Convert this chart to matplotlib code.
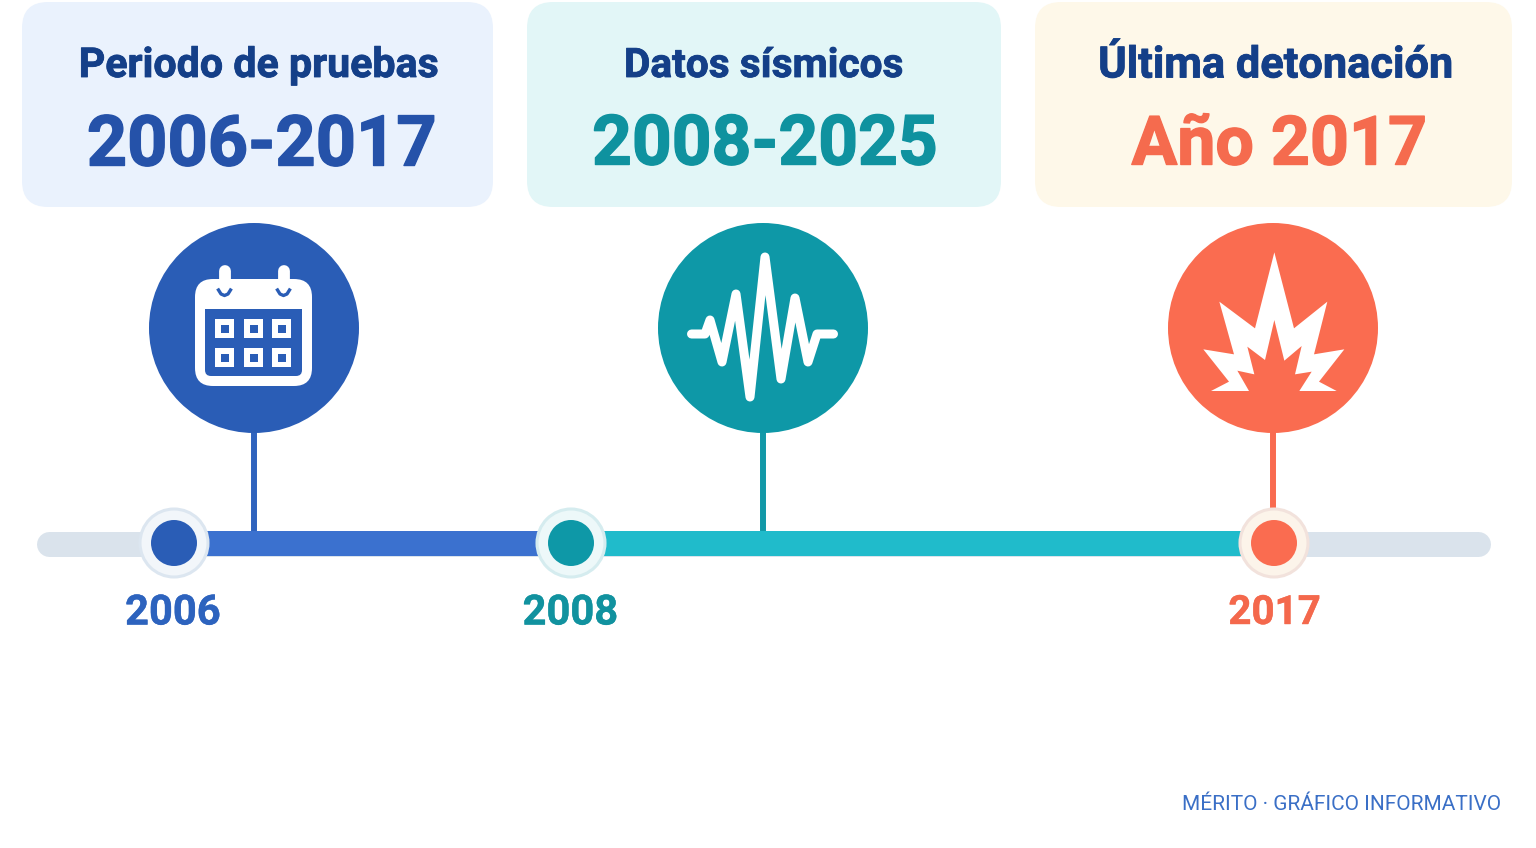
import matplotlib
matplotlib.use('Agg')
import matplotlib.pyplot as plt
import matplotlib.patheffects as pe
from matplotlib.patches import Circle, FancyBboxPatch, Polygon, Rectangle

plt.rcParams['font.family'] = ['Roboto', 'DejaVu Sans']

# datos
card_titles = ['Periodo de pruebas', 'Datos sísmicos', 'Última detonación']
card_values = ['2006-2017', '2008-2025', 'Año 2017']
years = ['2006', '2008', '2017']
footer = 'MÉRITO · GRÁFICO INFORMATIVO'

# colores
title_color = '#143F88'
card_bg = ['#EAF2FD', '#E2F6F7', '#FEF8E9']
value_colors = ['#2552A9', '#0F929F', '#F56B4E']
icon_colors = ['#2A5DB6', '#0E98A7', '#FA6C50']
year_colors = ['#2D63BE', '#11929F', '#F4684C']
stem_colors = ['#2F63BE', '#1299A8', '#F96B50']
segment_colors = ['#3B71CF', '#20BBCB']
ring_colors = ['#DCE6F0', '#D5ECEF', '#F2E2DC']
ring_fill = ['#F2F6FA', '#EDF8F9', '#FCF4EA']
track_color = '#DAE3EC'

# posiciones en pixeles
card_x = [(22, 493), (527, 1001), (1035, 1512)]
title_x = [259, 763.5, 1276]
title_size = [29.6, 29.2, 31.2]
value_x = [261.5, 765, 1279]
value_size = [50.6, 50, 49]
icon_x = [254, 763, 1273]
marker_x = [174, 571, 1274]
year_x = [173, 570.5, 1274.5]
year_size = [30, 30, 29]

fig = plt.figure(figsize=(15.36, 8.48), dpi=100)
ax = fig.add_axes([0, 0, 1, 1])
ax.set_xlim(0, 1536)
ax.set_ylim(848, 0)
ax.axis('off')


def rounded(x0, y0, x1, y1, r, color, z=1):
    ax.add_patch(FancyBboxPatch((x0 + r, y0 + r), x1 - x0 - 2 * r, y1 - y0 - 2 * r,
                                boxstyle=f'round,pad={r},rounding_size={r}',
                                fc=color, ec='none', zorder=z))


# tarjetas
for i in range(3):
    x0, x1 = card_x[i]
    rounded(x0, 2, x1, 207, 26, card_bg[i])
    ax.text(title_x[i], 66, card_titles[i], ha='center', va='center',
            fontsize=title_size[i], fontweight='bold', color=title_color,
            path_effects=[pe.withStroke(linewidth=0.6, foreground=title_color)])
    ax.text(value_x[i], 146, card_values[i], ha='center', va='center',
            fontsize=value_size[i], fontweight='bold', color=value_colors[i],
            path_effects=[pe.withStroke(linewidth=1.0, foreground=value_colors[i])])

# linea de tiempo
ax.plot([48.5, 1477.5], [543.5, 543.5], color=track_color, lw=18, solid_capstyle='round', zorder=2)
ax.add_patch(Rectangle((marker_x[0], 531), marker_x[1] - marker_x[0], 25, fc=segment_colors[0], ec='none', zorder=3))
ax.add_patch(Rectangle((marker_x[1], 531), marker_x[2] - marker_x[1], 25, fc=segment_colors[1], ec='none', zorder=3))

for i in range(3):
    ax.plot([icon_x[i], icon_x[i]], [400, 531], color=stem_colors[i], lw=4.3,
            solid_capstyle='butt', zorder=4)
    ax.add_patch(Circle((icon_x[i], 328), 105, fc=icon_colors[i], ec='none', zorder=5))
    ax.add_patch(Circle((marker_x[i], 543), 34, fc=ring_fill[i], ec=ring_colors[i], lw=2.2, zorder=5))
    ax.add_patch(Circle((marker_x[i], 543), 23, fc=icon_colors[i], ec='none', zorder=6))
    ax.text(year_x[i], 613, years[i], ha='center', va='center', fontsize=year_size[i],
            fontweight='bold', color=year_colors[i],
            path_effects=[pe.withStroke(linewidth=0.3, foreground=year_colors[i])])

# icono calendario
blue = icon_colors[0]
for rx in (224.5, 283.5):
    ax.plot([rx, rx], [271, 292], color='white', lw=8.5, solid_capstyle='round', zorder=6)
rounded(195, 279, 312, 386, 18, 'white', 6)
rounded(205, 309, 302, 376, 6, blue, 7)
ax.add_patch(Rectangle((205, 309), 97, 12, fc=blue, ec='none', zorder=7))
for rx in (224.5, 283.5):
    ax.plot([rx - 6, rx - 3.5, rx, rx + 3.5, rx + 6], [290, 294, 295.5, 294, 290], color=blue, lw=2.4, zorder=8)
for sx in (215, 244, 272):
    for sy in (319, 348):
        ax.add_patch(Rectangle((sx, sy), 19, 19, fc='white', ec='none', zorder=8))
        ax.add_patch(Rectangle((sx + 5.5, sy + 5.5), 8, 8, fc=blue, ec='none', zorder=9))

# icono onda sismica
wave_x = [691.5, 705, 710, 722, 736, 750, 765, 781, 795, 808, 817, 833.5]
wave_y = [334, 334, 320, 362, 294, 397, 257, 379, 298, 362, 334, 334]
ax.plot(wave_x, wave_y, color='white', lw=6.5, solid_capstyle='round', solid_joinstyle='round', zorder=6)

# icono explosion
blast_x = [373, 432, 532, 492, 583, 507, 560, 448, 485, 435, 455, 403, 373, 345, 292, 313, 262, 297, 183, 237, 160, 252, 208, 315]
blast_y = [97, 325, 245, 403, 388, 485, 513, 513, 455, 463, 378, 422, 300, 420, 380, 463, 452, 513, 513, 485, 388, 403, 245, 325]
blast = [(1150 + x / 3, 220 + y / 3) for x, y in zip(blast_x, blast_y)]
ax.add_patch(Polygon(blast, closed=True, fc='white', ec='none', zorder=6))

ax.text(1501, 805, footer, ha='right', va='center', fontsize=15, color='#3A6FC6')

fig.savefig('out.png', dpi=100)
